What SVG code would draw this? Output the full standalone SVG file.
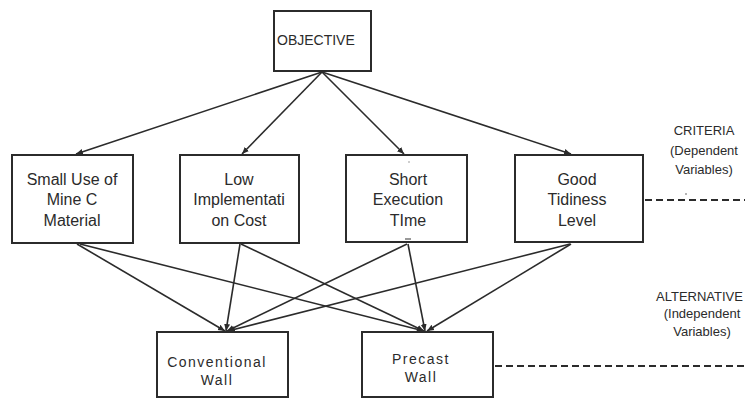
<svg xmlns="http://www.w3.org/2000/svg" width="745" height="399" viewBox="0 0 745 399">
<style>
.box{fill:#fff;stroke:#2b2b2b;stroke-width:2}
.t{font-family:"Liberation Sans",Arial,sans-serif;font-size:16px;fill:#2b2b2b;text-anchor:middle}
.s{font-family:"Liberation Sans",Arial,sans-serif;font-size:13px;fill:#2b2b2b;text-anchor:middle}
.w{font-family:"Liberation Sans",Arial,sans-serif;font-size:14px;fill:#2b2b2b;text-anchor:middle;letter-spacing:1.5px}
.c{stroke:#2b2b2b;stroke-width:1.6;fill:none;marker-end:url(#ah)}
.d{stroke:#2b2b2b;stroke-width:1.8;stroke-dasharray:7 4;fill:none}
</style>
<defs>
<marker id="ah" markerWidth="8" markerHeight="8" refX="7" refY="4" orient="auto" markerUnits="userSpaceOnUse">
<path d="M0,1 L7,4 L0,7 z" fill="#2b2b2b"/>
</marker>
</defs>
<rect width="745" height="399" fill="#fff"/>
<g id="connectors">
<line class="c" x1="322" y1="72" x2="76" y2="154"/>
<line class="c" x1="322" y1="72" x2="242" y2="154"/>
<line class="c" x1="322" y1="72" x2="404" y2="154"/>
<line class="c" x1="322" y1="72" x2="571" y2="154"/>
<line class="c" x1="77" y1="244" x2="225" y2="331"/>
<line class="c" x1="80" y1="244" x2="424" y2="331"/>
<line class="c" x1="240" y1="244" x2="226" y2="331"/>
<line class="c" x1="241" y1="244" x2="424" y2="331"/>
<line class="c" x1="407" y1="244" x2="227" y2="331"/>
<line class="c" x1="408" y1="244" x2="425" y2="331"/>
<line class="c" x1="570" y1="244" x2="228" y2="331"/>
<line class="c" x1="571" y1="244" x2="427" y2="331"/>
<line class="d" x1="645" y1="200" x2="745" y2="200"/>
<line class="d" x1="495" y1="366" x2="745" y2="366"/>
</g>
<g id="objective">
<rect class="box" x="274" y="11" width="97" height="60"/>
<text x="277" y="45" style="font-family:'Liberation Sans',Arial,sans-serif;font-size:14px;fill:#2b2b2b">OBJECTIVE</text>
</g>
<g id="small-use">
<rect class="box" x="12" y="155" width="121" height="88"/>
<text class="t" x="72" y="185">Small Use of</text>
<text class="t" x="72" y="205">Mine C</text>
<text class="t" x="72" y="226">Material</text>
</g>
<g id="low-cost">
<rect class="box" x="180" y="155" width="119" height="88"/>
<text class="t" x="239" y="185">Low</text>
<text class="t" x="239" y="205">Implementati</text>
<text class="t" x="239" y="226">on Cost</text>
</g>
<g id="short-time">
<rect class="box" x="346" y="155" width="121" height="87"/>
<text class="t" x="408" y="185">Short</text>
<text class="t" x="408" y="205">Execution</text>
<text class="t" x="408" y="226">TIme</text>
<line x1="405" y1="239" x2="411" y2="239" stroke="#555" stroke-width="1.2"/>
<circle cx="409" cy="162" r="0.7" fill="#777"/>
</g>
<g id="good-tidiness">
<rect class="box" x="515" y="155" width="128" height="87"/>
<text class="t" x="577" y="185">Good</text>
<text class="t" x="577" y="205">Tidiness</text>
<text class="t" x="577" y="226">Level</text>
</g>
<g id="conventional">
<rect class="box" x="157" y="332" width="131" height="65"/>
<text class="w" x="217" y="367">Conventional</text>
<text class="w" x="217" y="385">Wall</text>
</g>
<g id="precast">
<rect class="box" x="362" y="332" width="131" height="65"/>
<text class="w" x="421" y="364">Precast</text>
<text class="w" x="421" y="382">Wall</text>
</g>
<g id="labels">
<text class="s" x="704" y="135">CRITERIA</text>
<text class="s" x="704" y="155">(Dependent</text>
<text class="s" x="704" y="174">Variables)</text>
<circle cx="686" cy="194" r="0.8" fill="#555"/>
<text class="s" x="656" y="301" style="text-anchor:start">ALTERNATIVE</text>
<text class="s" x="702" y="318">(Independent</text>
<text class="s" x="702" y="336">Variables)</text>
</g>
</svg>
